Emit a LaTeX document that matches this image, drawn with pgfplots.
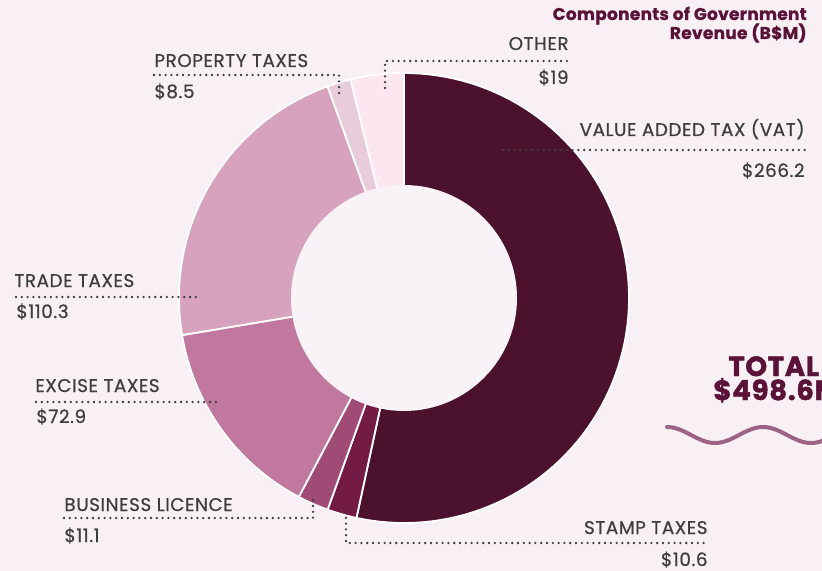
\documentclass[border=0pt]{standalone}
\usepackage{fontspec}
\setmainfont{Poppins}
\newfontfamily\lblfont{Poppins}[LetterSpace=3, FakeBold=0.6]
\newfontfamily\ttlfont{Poppins Bold}[LetterSpace=1.5, FakeBold=0.8]
\newfontfamily\totfont{Poppins Bold}[LetterSpace=2.5, FakeBold=1.6]
\usepackage{pgfplots}
\usepackage{pgfplotstable}
\pgfplotsset{compat=1.18}

\definecolor{bg}{HTML}{F8F0F5}
\definecolor{hole}{HTML}{F9F3F8}
\definecolor{cVAT}{HTML}{4B112D}
\definecolor{cStamp}{HTML}{731A45}
\definecolor{cBiz}{HTML}{A04A76}
\definecolor{cExcise}{HTML}{C0789E}
\definecolor{cTrade}{HTML}{D6A2BE}
\definecolor{cProp}{HTML}{E9CCDA}
\definecolor{cOther}{HTML}{FCE6F0}
\definecolor{txt}{HTML}{3E3E3E}
\definecolor{maroon}{HTML}{5A1238}
\definecolor{wave}{HTML}{9C6385}

% revenue components, B$M, clockwise from 12 o'clock
\pgfplotstableread{
name     value
VAT      266.2
Stamp    10.6
Business 11.1
Excise   72.9
Trade    110.3
Property 8.5
Other    19
}\revtable

% cumulative start/end of each slice
\def\cum{0}
\pgfplotsforeachungrouped \i in {0,...,6}{%
  \pgfplotstablegetelem{\i}{value}\of\revtable
  \expandafter\xdef\csname start\i\endcsname{\cum}%
  \pgfmathsetmacro\cum{\cum+\pgfplotsretval}%
  \expandafter\xdef\csname end\i\endcsname{\cum}%
}
\let\total\cum

% centre (404,298), outer radius 225 (pixel units)
\newcommand\slice[2]{%
  \edef\doslice{\noexpand\addplot[fill=#2, draw=white, line width=0.9pt,
      line join=round, domain=\csname start#1\endcsname:\csname end#1\endcsname,
      samples=90, variable=\noexpand\t]
    ({404+225*cos(90-360*\noexpand\t/\total)},
     {298-225*sin(90-360*\noexpand\t/\total)})
    -- (axis cs:404,298) -- cycle;}%
  \doslice
}

\tikzset{
  lbl/.style={font=\lblfont\fontsize{9.2}{10}\selectfont, text=txt, inner sep=0pt},
  dots/.style={draw=txt, line width=1.3pt, line cap=round,
    dash pattern=on 0pt off 2.9pt},
}

\begin{document}
\begin{tikzpicture}
\fill[bg] (0,0) rectangle (411pt,285.5pt);
\begin{axis}[
  at={(0,0)}, anchor=south west,
  scale only axis, width=411pt, height=285.5pt,
  xmin=0, xmax=822, ymin=0, ymax=571,
  y dir=reverse,
  hide axis, clip=false,
]
\slice{0}{cVAT}
\slice{1}{cStamp}
\slice{2}{cBiz}
\slice{3}{cExcise}
\slice{4}{cTrade}
\slice{5}{cProp}
\slice{6}{cOther}
\fill[hole] (axis cs:404,298) circle[radius=56.5pt];

% leader lines
\draw[dots] (axis cs:154,75) -- (axis cs:339,75) -- (axis cs:339,97);
\draw[dots] (axis cs:385,88) -- (axis cs:385,61) -- (axis cs:569,61);
\draw[dots] (axis cs:503,150) -- (axis cs:805,150);
\draw[dots] (axis cs:16,297) -- (axis cs:197,297);
\draw[dots] (axis cs:36,402) -- (axis cs:217,402);
\draw[dots] (axis cs:64,518) -- (axis cs:313,518) -- (axis cs:313,497);
\draw[dots] (axis cs:346,512) -- (axis cs:346,543) -- (axis cs:708,543);

% labels
\node[lbl, anchor=base west] at (axis cs:154,67) {PROPERTY TAXES};
\node[lbl, anchor=base west] at (axis cs:154,98) {\$8.5};
\node[lbl, anchor=base east] at (axis cs:569,50) {OTHER};
\node[lbl, anchor=base east] at (axis cs:569,84) {\$19};
\node[lbl, anchor=base east] at (axis cs:805,136) {VALUE ADDED TAX (VAT)};
\node[lbl, anchor=base east] at (axis cs:805,177) {\$266.2};
\node[lbl, anchor=base west] at (axis cs:14,287) {TRADE TAXES};
\node[lbl, anchor=base west] at (axis cs:16,318) {\$110.3};
\node[lbl, anchor=base west] at (axis cs:35,392) {EXCISE TAXES};
\node[lbl, anchor=base west] at (axis cs:36,423) {\$72.9};
\node[lbl, anchor=base west] at (axis cs:64,511) {BUSINESS LICENCE};
\node[lbl, anchor=base west] at (axis cs:64,542) {\$11.1};
\node[lbl, anchor=base east] at (axis cs:708,534) {STAMP TAXES};
\node[lbl, anchor=base east] at (axis cs:708,566) {\$10.6};

% title
\node[anchor=base east, inner sep=0pt, text=maroon,
  font=\ttlfont\fontsize{8.5}{9}\selectfont] at (axis cs:807,20)
  {Components of Government};
\node[anchor=base east, inner sep=0pt, text=maroon,
  font=\ttlfont\fontsize{8.5}{9}\selectfont] at (axis cs:807,39)
  {Revenue (B\$M)};

% total
\node[anchor=base west, inner sep=0pt, text=maroon,
  font=\totfont\fontsize{13.8}{15}\selectfont] at (axis cs:728,376) {TOTAL};
\node[anchor=base west, inner sep=0pt, text=maroon,
  font=\totfont\fontsize{13.8}{15}\selectfont] at (axis cs:713,400) {\$498.6M};
\draw[wave, line width=2pt, line cap=round]
  (axis cs:667,427) cos (axis cs:691,435) sin (axis cs:715,443)
  cos (axis cs:739,435) sin (axis cs:763,427) cos (axis cs:787,435)
  sin (axis cs:811,443) cos (axis cs:835,435);
\end{axis}
\pgfresetboundingbox
\path[use as bounding box] (0,0) rectangle (411pt,285.5pt);
\end{tikzpicture}
\end{document}
